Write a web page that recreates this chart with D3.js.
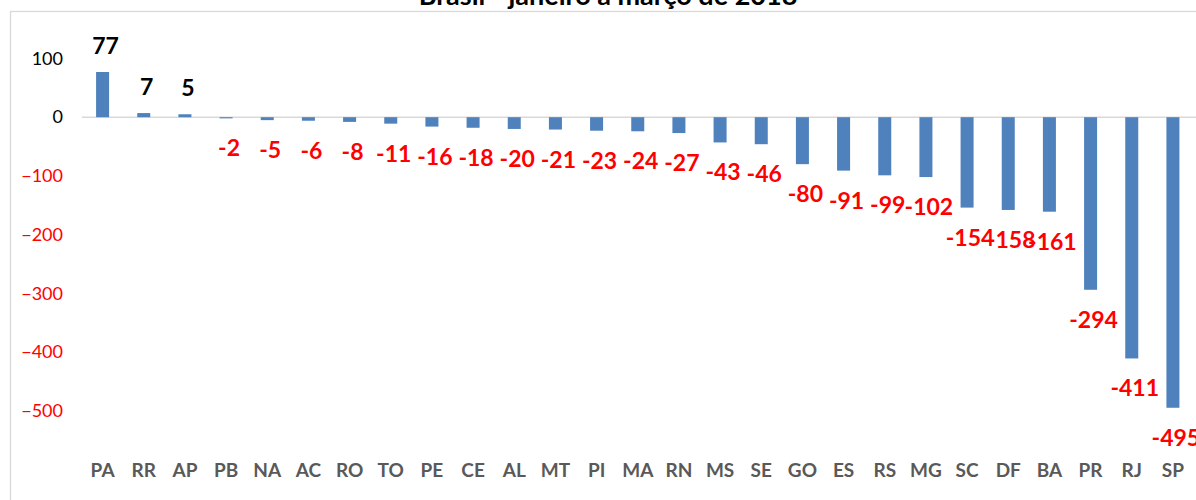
<!DOCTYPE html>
<html>
<head>
<meta charset="utf-8">
<script src="https://cdn.jsdelivr.net/npm/d3@7"></script>
<style>
  html, body { margin: 0; padding: 0; background: #fff; overflow: hidden; }
  svg { display: block; font-family: Lato, "Open Sans", sans-serif; }
</style>
</head>
<body>
<svg id="chart" width="1196" height="500"></svg>
<script>
// 各州數據
const titleText = 'Brasil - janeiro a março de 2018';
const estados = ['PA', 'RR', 'AP', 'PB', 'NA', 'AC', 'RO', 'TO', 'PE', 'CE', 'AL', 'MT', 'PI', 'MA',
                 'RN', 'MS', 'SE', 'GO', 'ES', 'RS', 'MG', 'SC', 'DF', 'BA', 'PR', 'RJ', 'SP'];
const saldos = [77, 7, 5, -2, -5, -6, -8, -11, -16, -18, -20, -21, -23, -24,
                -27, -43, -46, -80, -91, -99, -102, -154, -158, -161, -294, -411, -495];
const yTicks = [100, 0, -100, -200, -300, -400, -500];

const svg = d3.select('#chart');

// 比例尺
const x = d3.scaleBand()
    .domain(estados)
    .range([82, 1193.5])
    .paddingInner(0.684)
    .paddingOuter(0.342);

const y = d3.scaleLinear()
    .domain([-500, 100])
    .range([410.7, 58.5]);

// 圖表外框 (只有上邊與左邊在畫面內)
svg.append('rect')
    .attr('x', 10.5)
    .attr('y', 11.5)
    .attr('width', 1300)
    .attr('height', 600)
    .attr('fill', 'none')
    .attr('stroke', '#d9d9d9')
    .attr('stroke-width', 1.3);

// 標題 (上半部被裁掉)
svg.append('text')
    .attr('x', 608)
    .attr('y', 5)
    .attr('text-anchor', 'middle')
    .attr('font-size', '27px')
    .attr('font-weight', 'bold')
    .attr('fill', '#000')
    .text(titleText);

// Y 軸
const yAxis = svg.append('g')
    .attr('transform', 'translate(66,0)')
    .call(d3.axisLeft(y).tickValues(yTicks).tickSize(0).tickPadding(3).tickFormat(d3.format('d')));
yAxis.select('.domain').remove();
yAxis.selectAll('text')
    .attr('font-size', '18px')
    .attr('font-family', 'Lato, sans-serif')
    .attr('fill', d => d < 0 ? '#ff0000' : '#000');

// 零線
svg.append('line')
    .attr('x1', 82)
    .attr('x2', 1196)
    .attr('y1', y(0))
    .attr('y2', y(0))
    .attr('stroke', '#d9d9d9')
    .attr('stroke-width', 1.5);

// 柱子
svg.selectAll('.bar')
    .data(estados)
    .enter()
    .append('rect')
    .attr('class', 'bar')
    .attr('x', d => x(d))
    .attr('width', x.bandwidth())
    .attr('y', (d, i) => y(Math.max(0, saldos[i])))
    .attr('height', (d, i) => Math.abs(y(saldos[i]) - y(0)))
    .attr('fill', '#4f81bd');

// 數值標籤
svg.selectAll('.label')
    .data(estados)
    .enter()
    .append('text')
    .attr('class', 'label')
    .attr('x', d => x(d) + x.bandwidth() / 2 + 3)
    .attr('y', (d, i) => saldos[i] >= 0 ? y(saldos[i]) - 18.5 : y(saldos[i]) + 38)
    .attr('text-anchor', 'middle')
    .attr('font-size', '23px')
    .attr('font-weight', 'bold')
    .attr('fill', (d, i) => saldos[i] >= 0 ? '#000' : '#ff0000')
    .text((d, i) => saldos[i]);

// X 軸 (類別標籤)
const xAxis = svg.append('g')
    .attr('transform', 'translate(0,460)')
    .call(d3.axisBottom(x).tickSize(0).tickPadding(3));
xAxis.select('.domain').remove();
xAxis.selectAll('text')
    .attr('font-size', '19px')
    .attr('font-weight', 'bold')
    .attr('font-family', 'Lato, sans-serif')
    .attr('fill', '#595959');
</script>
</body>
</html>
